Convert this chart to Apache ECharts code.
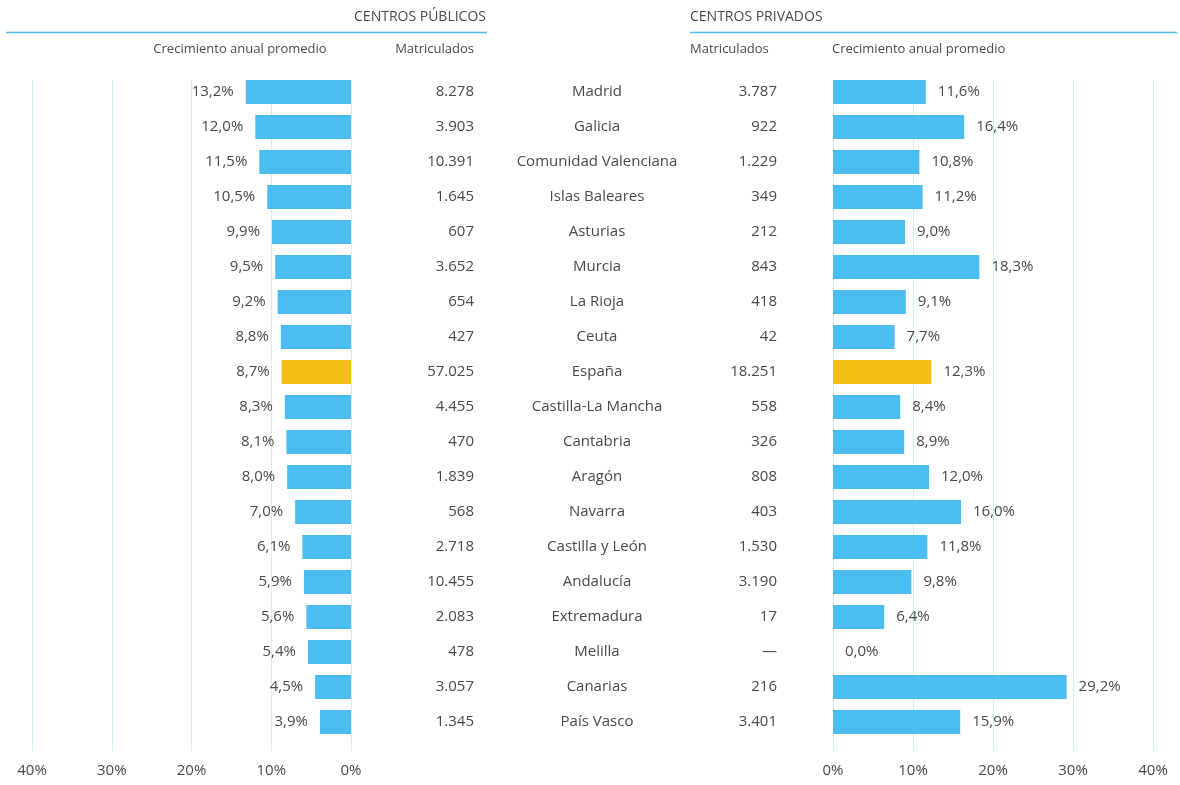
<!DOCTYPE html>
<html>
<head>
<meta charset="utf-8">
<script src="https://cdn.jsdelivr.net/npm/echarts@6/dist/echarts.min.js"></script>
<style>
  html, body { margin: 0; padding: 0; background: #fff; }
  #grafica { width: 1180px; height: 785px; }
</style>
</head>
<body>
<div id="grafica"></div>
<script>
// ── Datos ────────────────────────────────────────────────────────────────
const regiones = ["Madrid", "Galicia", "Comunidad Valenciana", "Islas Baleares", "Asturias", "Murcia",
   "La Rioja", "Ceuta", "España", "Castilla-La Mancha", "Cantabria", "Aragón", "Navarra",
   "Castilla y León", "Andalucía", "Extremadura", "Melilla", "Canarias", "País Vasco"];
const crecPublicos = [13.2, 12.0, 11.5, 10.5, 9.9, 9.5, 9.2, 8.8, 8.7, 8.3, 8.1, 8.0, 7.0, 6.1, 5.9, 5.6, 5.4, 4.5, 3.9];
const matPublicos = [8278, 3903, 10391, 1645, 607, 3652, 654, 427, 57025, 4455, 470, 1839, 568, 2718, 10455, 2083, 478, 3057, 1345];
const crecPrivados = [11.6, 16.4, 10.8, 11.2, 9.0, 18.3, 9.1, 7.7, 12.3, 8.4, 8.9, 12.0, 16.0, 11.8, 9.8, 6.4, 0.0, 29.2, 15.9];
const matPrivados = [3787, 922, 1229, 349, 212, 843, 418, 42, 18251, 558, 326, 808, 403, 1530, 3190, 17, null, 216, 3401];
const ticksEje = [0, 10, 20, 30, 40];

// ── Estilos ──────────────────────────────────────────────────────────────
const colores = {
   azul: "#4bbdf0",
   amarillo: "#f4be14",
   texto: "#4a4a4a",
   grid: "#d6ecf9",
   linea: "#4bbdf0"
};
const fuente = "'Open Sans', sans-serif";

const fmtMiles = (n) => n === null ? "—" : String(n).replace(/\B(?=(\d{3})+(?!\d))/g, ".");
const fmtPct = (v) => v.toFixed(1).replace(".", ",") + "%";

const datosBarras = (lista) => lista.map((v, i) => ({
   value: v,
   itemStyle: { color: regiones[i] === "España" ? colores.amarillo : colores.azul }
}));

const ejeXOculto = (grid, inverso) => ({
   gridIndex: grid, type: "value", min: 0, max: 40, inverse: inverso, show: false
});

const ejeXVisible = (grid, inverso) => ({
   gridIndex: grid, type: "value", min: ticksEje[0], max: ticksEje[ticksEje.length - 1],
   interval: 10, inverse: inverso,
   axisLine: { show: false }, axisTick: { show: false },
   splitLine: { show: true, lineStyle: { color: colores.grid, width: 1 } },
   axisLabel: { margin: 12, fontSize: 15, color: colores.texto, fontFamily: fuente, formatter: "{value}%" }
});

const ejeYValorOculto = (grid) => ({ gridIndex: grid, type: "value", min: 0, max: 1, show: false });

const ejeCategoria = (grid, posicion, margen, alinear, formato) => ({
   gridIndex: grid, type: "category", data: regiones, inverse: true, position: posicion,
   axisLine: { show: false }, axisTick: { show: false }, splitLine: { show: false },
   axisLabel: {
      interval: 0, margin: margen, align: alinear, fontSize: 15, padding: [5, 0, 0, 0],
      color: colores.texto, fontFamily: fuente, formatter: formato
   }
});

const etiquetaValor = (posicion) => ({
   show: true, position: posicion, distance: 12, fontSize: 15, padding: [5, 0, 0, 0],
   color: colores.texto, fontFamily: fuente, formatter: (p) => fmtPct(p.value)
});

const textoGrafico = (x, y, texto, alinear, tam) => ({
   type: "text", x: x, y: y,
   style: { text: texto, align: alinear, verticalAlign: "middle", fill: colores.texto, font: `${tam}px ${fuente}` }
});

const grafica = echarts.init(document.getElementById("grafica"), null, { renderer: "canvas" });

grafica.setOption({
   animation: false,
   backgroundColor: "#ffffff",
   grid: [
      { left: 32, width: 319, top: 74.5, height: 665 },   // barras públicos
      { left: 833, width: 320, top: 74.5, height: 665 },  // barras privados
      { left: 32, width: 319, top: 80, height: 671 },     // eje públicos
      { left: 833, width: 320, top: 80, height: 671 }     // eje privados
   ],
   xAxis: [
      ejeXOculto(0, true),
      ejeXOculto(1, false),
      ejeXVisible(2, true),
      ejeXVisible(3, false)
   ],
   yAxis: [
      ejeCategoria(0, "right", 123, "right", (v, i) => fmtMiles(matPublicos[i])),
      ejeCategoria(1, "left", 236, "center", (v) => v),
      ejeCategoria(1, "left", 56, "right", (v, i) => fmtMiles(matPrivados[i])),
      ejeYValorOculto(2),
      ejeYValorOculto(3)
   ],
   series: [
      {
         name: "Públicos", type: "bar", xAxisIndex: 0, yAxisIndex: 0, barWidth: 24,
         data: datosBarras(crecPublicos),
         label: etiquetaValor("left")
      },
      {
         name: "Privados", type: "bar", xAxisIndex: 1, yAxisIndex: 1, barWidth: 24,
         data: datosBarras(crecPrivados),
         label: etiquetaValor("right")
      }
   ],
   graphic: [
      { type: "line", shape: { x1: 6, y1: 32.5, x2: 487, y2: 32.5 }, style: { stroke: colores.linea, lineWidth: 1.5 } },
      { type: "line", shape: { x1: 690, y1: 32.5, x2: 1177, y2: 32.5 }, style: { stroke: colores.linea, lineWidth: 1.5 } },
      textoGrafico(486, 17, "CENTROS PÚBLICOS", "right", 14),
      textoGrafico(690, 17, "CENTROS PRIVADOS", "left", 14),
      textoGrafico(240, 49, "Crecimiento anual promedio", "center", 13),
      textoGrafico(474, 49, "Matriculados", "right", 13),
      textoGrafico(690, 49, "Matriculados", "left", 13),
      textoGrafico(832, 49, "Crecimiento anual promedio", "left", 13)
   ]
});
</script>
</body>
</html>
